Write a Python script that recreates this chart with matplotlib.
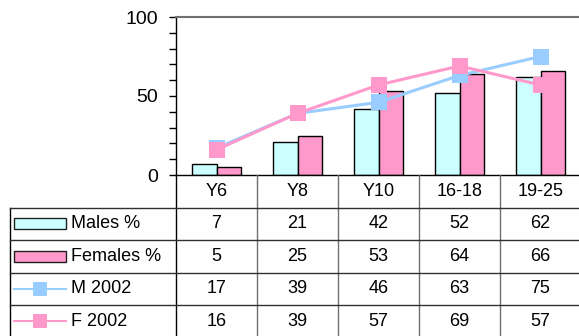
import numpy as np
import matplotlib.pyplot as plt
from matplotlib.patches import Rectangle
from matplotlib.lines import Line2D

plt.rcParams['font.family'] = ['Liberation Sans', 'DejaVu Sans']

categories = ["Y6", "Y8", "Y10", "16-18", "19-25"]
males_pct = [7, 21, 42, 52, 62]
females_pct = [5, 25, 53, 64, 66]
m_2002 = [17, 39, 46, 63, 75]
f_2002 = [16, 39, 57, 69, 57]
series_names = ["Males %", "Females %", "M 2002", "F 2002"]

CYAN = "#CCFFFF"
PINK = "#FF99CC"
BLUE = "#99CCFF"

W, H = 579, 336
fig = plt.figure(figsize=(W / 100, H / 100), dpi=100)

# plot area and data table layout, in pixels
left, right, top, bottom = 176, 581, 17, 175
col_w = (right - left) / len(categories)
row_h = 32.5
legend_left = 10

ax = fig.add_axes([left / W, 1 - bottom / H, (right - left) / W, (bottom - top) / H])
x = np.arange(len(categories)) + 0.5
bw = 0.3
ax.bar(x - bw / 2, males_pct, bw, color=CYAN, edgecolor='black', lw=1, zorder=2)
ax.bar(x + bw / 2, females_pct, bw, color=PINK, edgecolor='black', lw=1, zorder=2)
ax.plot(x, m_2002, color=BLUE, lw=2.2, marker='s', ms=11.5, mew=0, zorder=3)
ax.plot(x, f_2002, color=PINK, lw=2.2, marker='s', ms=11.5, mew=0, zorder=4)
ax.set_xlim(0, len(categories))
ax.set_ylim(0, 100)
ax.set_xticks([])
ax.set_yticks([0, 50, 100])
ax.set_yticks(range(0, 101, 10), minor=True)
ax.tick_params(axis='y', which='both', direction='out', length=5, width=1, labelsize=14, pad=8)
ax.spines['right'].set_visible(False)
ax.spines['top'].set_color('#707070')
ax.spines['top'].set_linewidth(1.5)
for s in ('left', 'bottom'):
    ax.spines[s].set_color('black')
    ax.spines[s].set_linewidth(1)

# data table below the plot
tab = fig.add_axes([0, 0, 1, 1])
tab.set_xlim(0, W)
tab.set_ylim(H, 0)
tab.axis('off')
tab.patch.set_alpha(0)

tab.plot([left, left], [bottom, H], color='black', lw=1)
for i in range(1, len(categories)):
    xc = left + col_w * i
    tab.plot([xc, xc], [bottom, H], color='#707070', lw=1)
tab.plot([legend_left, legend_left], [bottom + row_h, H], color='black', lw=1)
for k in range(1, 5):
    yr = bottom + row_h * k
    tab.plot([legend_left, right], [yr, yr], color='#303030', lw=1)

for i, cat in enumerate(categories):
    tab.text(left + col_w * (i + 0.5), bottom + row_h / 2, cat,
             ha='center', va='center', fontsize=13)

rows = [males_pct, females_pct, m_2002, f_2002]
for r, vals in enumerate(rows):
    yc = bottom + row_h * (r + 1.5)
    for i, v in enumerate(vals):
        tab.text(left + col_w * (i + 0.5), yc, str(v), ha='center', va='center', fontsize=13)
    tab.text(71, yc, series_names[r], ha='left', va='center', fontsize=13)

# legend keys
key_x0, key_x1 = 14.3, 65.7
for r, fc in enumerate([CYAN, PINK]):
    yc = bottom + row_h * (r + 1.5)
    tab.add_patch(Rectangle((key_x0, yc - 5.3), key_x1 - key_x0, 10.6,
                            facecolor=fc, edgecolor='#202020', lw=1))
for r, lc in enumerate([BLUE, PINK], start=2):
    yc = bottom + row_h * (r + 1.5)
    tab.add_line(Line2D([key_x0, key_x1], [yc, yc], color=lc, lw=1.5))
    tab.add_line(Line2D([(key_x0 + key_x1) / 2], [yc], color=lc, marker='s', ms=10, mew=0))

fig.savefig("out.png", dpi=100)
